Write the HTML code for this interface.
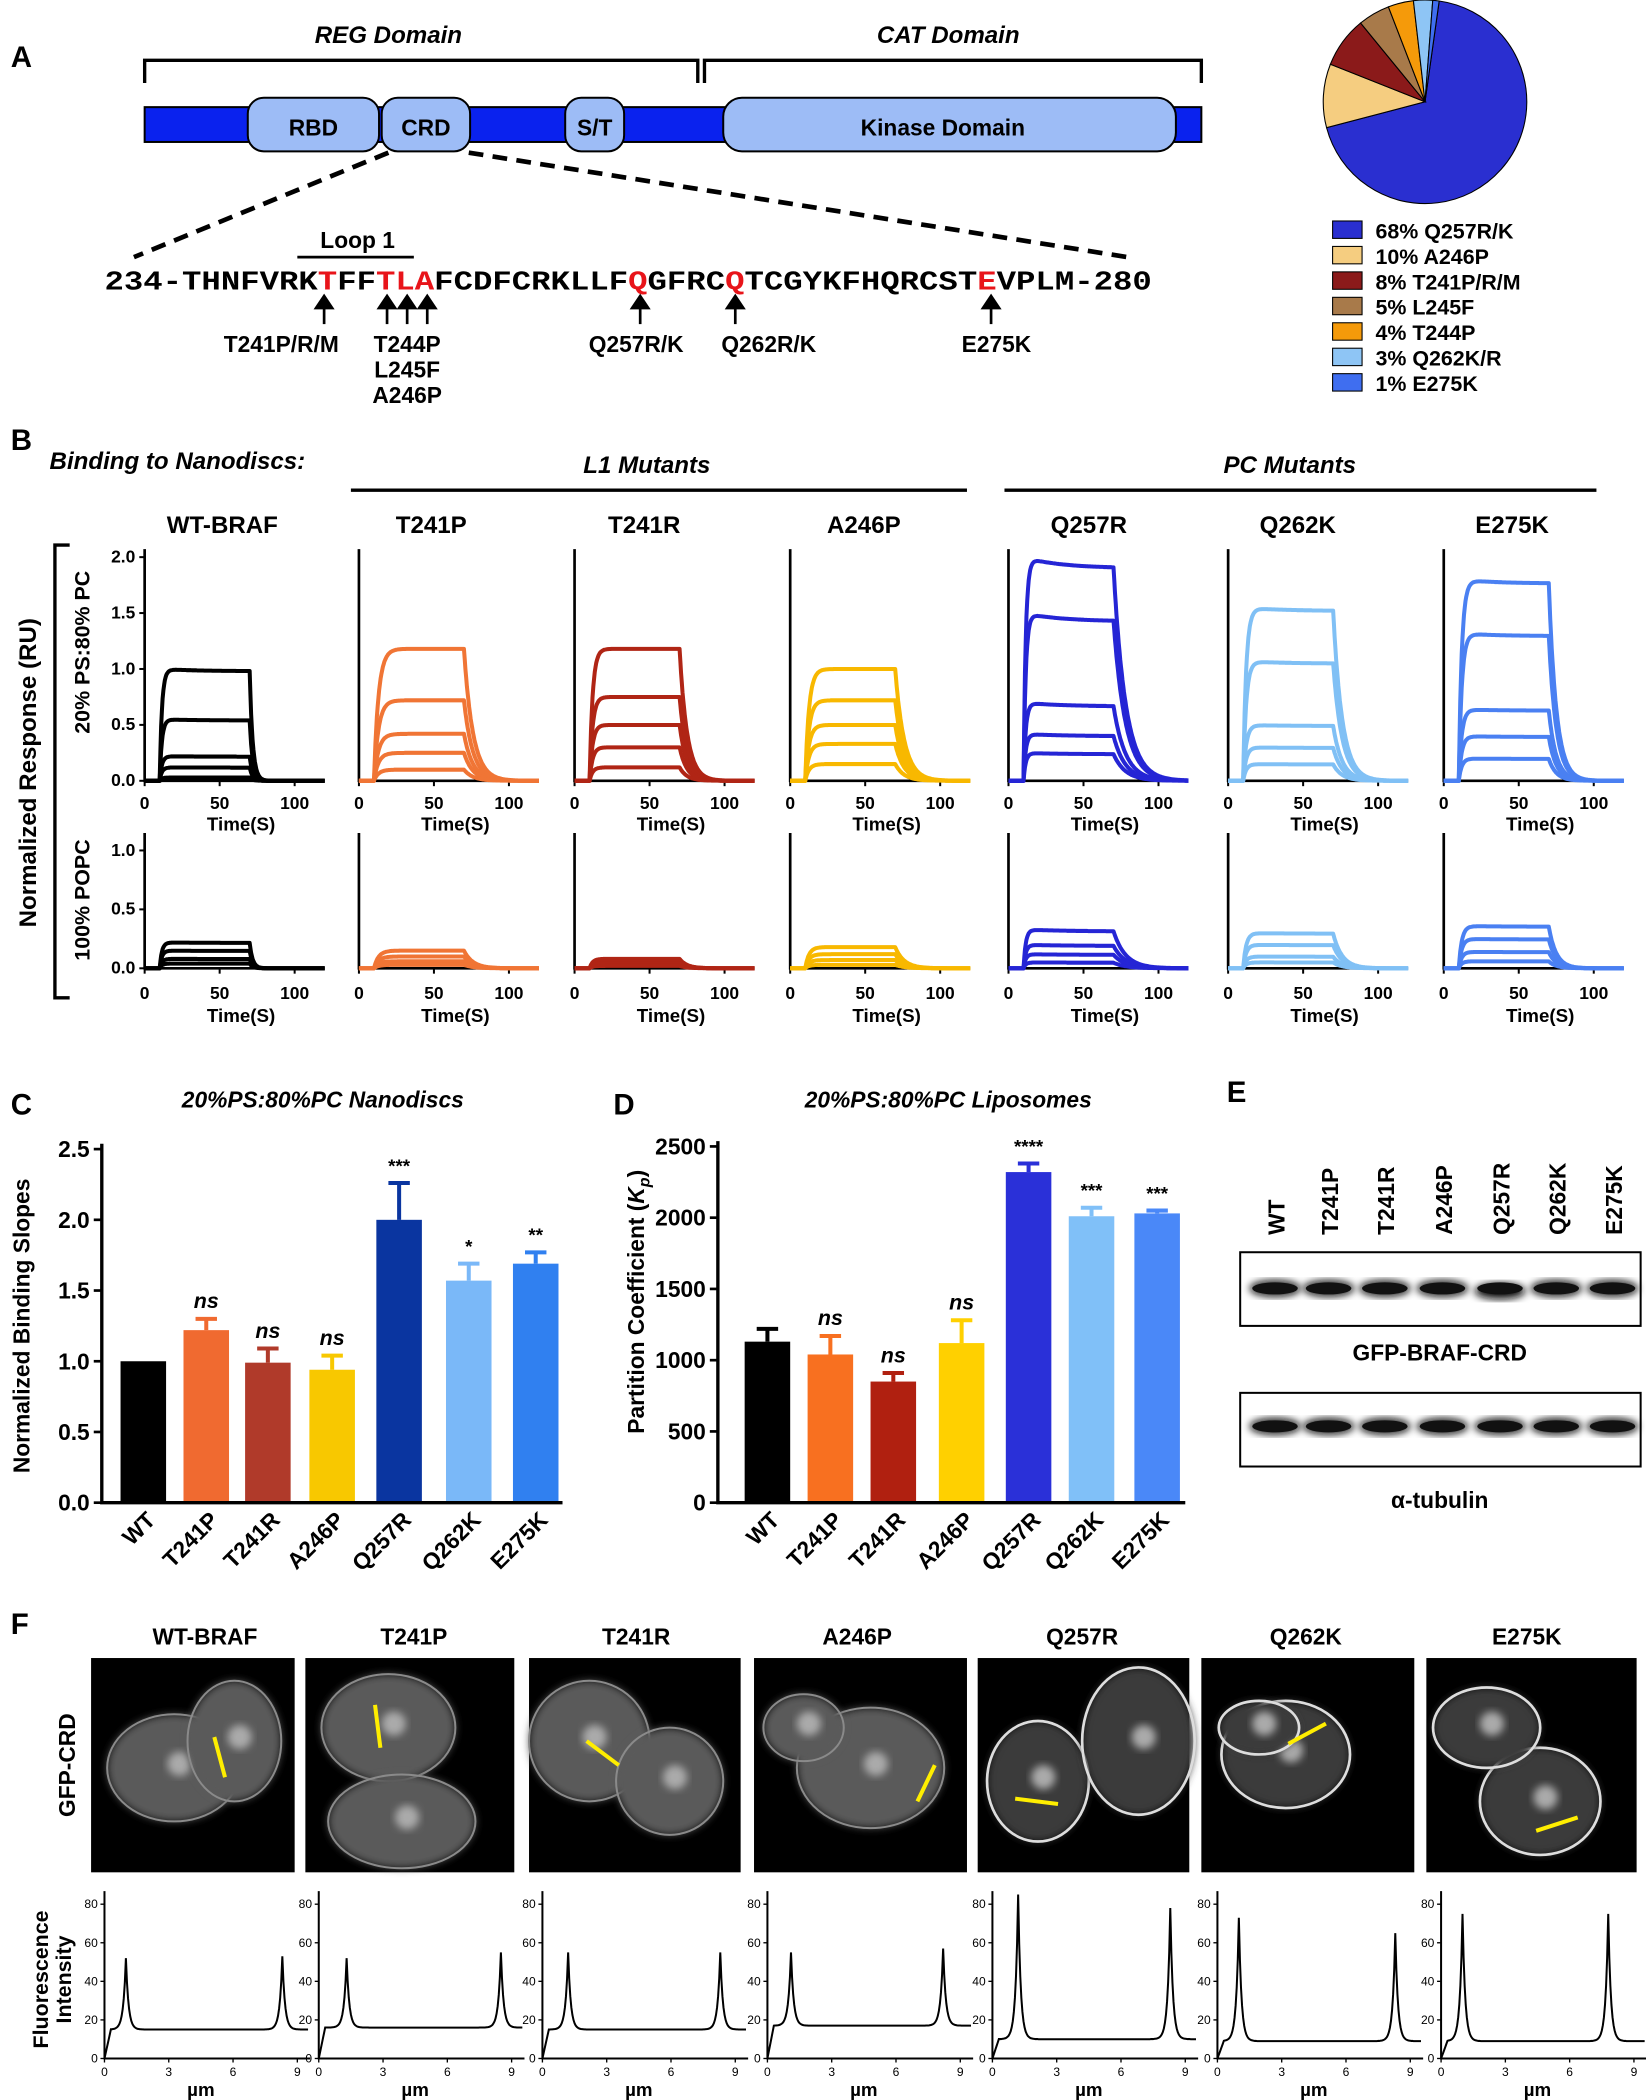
<!DOCTYPE html>
<html><head><meta charset="utf-8">
<style>
html,body{margin:0;padding:0;background:#fff;}
svg{display:block;}
text{font-family:"Liberation Sans",Arial,sans-serif;}
</style></head>
<body>
<svg id="fig" xmlns="http://www.w3.org/2000/svg" width="1646" height="2100" viewBox="0 0 1229 1568">
<defs>
<filter id="blur" x="-20%" y="-20%" width="140%" height="140%"><feGaussianBlur stdDeviation="3"/></filter>
</defs>
<rect width="1229" height="1568" fill="#fff"/>

<!-- Panel A -->
<g>
<text x="8" y="50" font-size="22" font-weight="bold">A</text>
<text x="290" y="32" font-size="18" font-weight="bold" font-style="italic" text-anchor="middle">REG Domain</text>
<text x="708" y="32" font-size="18" font-weight="bold" font-style="italic" text-anchor="middle">CAT Domain</text>
<path d="M108,62 V45 H521 V62" fill="none" stroke="#000" stroke-width="2.5"/>
<path d="M526,62 V45 H897 V62" fill="none" stroke="#000" stroke-width="2.5"/>
<rect x="108" y="80" width="789" height="26" fill="#0a22ee" stroke="#000" stroke-width="1.5"/>
<rect x="185" y="73" width="98" height="40" rx="12" fill="#9dbcf6" stroke="#000" stroke-width="1.5"/>
<text x="234" y="101" font-size="17" font-weight="bold" text-anchor="middle">RBD</text>
<rect x="285" y="73" width="66" height="40" rx="12" fill="#9dbcf6" stroke="#000" stroke-width="1.5"/>
<text x="318" y="101" font-size="17" font-weight="bold" text-anchor="middle">CRD</text>
<rect x="422" y="73" width="44" height="40" rx="12" fill="#9dbcf6" stroke="#000" stroke-width="1.5"/>
<text x="444" y="101" font-size="17" font-weight="bold" text-anchor="middle">S/T</text>
<rect x="540" y="73" width="338" height="40" rx="14" fill="#9dbcf6" stroke="#000" stroke-width="1.5"/>
<text x="704" y="101" font-size="17" font-weight="bold" text-anchor="middle">Kinase Domain</text>
<line x1="290" y1="114" x2="100" y2="192" stroke="#000" stroke-width="3.5" stroke-dasharray="11,7"/>
<line x1="350" y1="114" x2="842" y2="192" stroke="#000" stroke-width="3.5" stroke-dasharray="11,7"/>
<text x="267" y="185" font-size="17" font-weight="bold" text-anchor="middle">Loop 1</text>
<line x1="222" y1="192" x2="309" y2="192" stroke="#000" stroke-width="2"/>
<text x="78" y="216" style="font-family:'Liberation Mono',monospace" font-size="20" font-weight="bold" textLength="782" lengthAdjust="spacingAndGlyphs">234-THNFVRK<tspan fill="#e8141a">T</tspan>FF<tspan fill="#e8141a">TLA</tspan>FCDFCRKLLF<tspan fill="#e8141a">Q</tspan>GFRC<tspan fill="#e8141a">Q</tspan>TCGYKFHQRCST<tspan fill="#e8141a">E</tspan>VPLM-280</text>
<g stroke="#000" stroke-width="2" fill="#000">
<line x1="242" y1="242" x2="242" y2="226"/><path d="M236,230 L242,221 L248,230Z"/>
<line x1="289" y1="242" x2="289" y2="226"/><path d="M283,230 L289,221 L295,230Z"/>
<line x1="304" y1="242" x2="304" y2="226"/><path d="M298,230 L304,221 L310,230Z"/>
<line x1="319" y1="242" x2="319" y2="226"/><path d="M313,230 L319,221 L325,230Z"/>
<line x1="478" y1="242" x2="478" y2="226"/><path d="M472,230 L478,221 L484,230Z"/>
<line x1="549" y1="242" x2="549" y2="226"/><path d="M543,230 L549,221 L555,230Z"/>
<line x1="740" y1="242" x2="740" y2="226"/><path d="M734,230 L740,221 L746,230Z"/>
</g>
<g font-size="17" font-weight="bold" text-anchor="middle">
<text x="210" y="263">T241P/R/M</text>
<text x="304" y="263">T244P</text>
<text x="304" y="282">L245F</text>
<text x="304" y="301">A246P</text>
<text x="475" y="263">Q257R/K</text>
<text x="574" y="263">Q262R/K</text>
<text x="744" y="263">E275K</text>
</g>
<g id="pie"></g>
<g id="pieLegend"></g>
</g>

<!-- Panel B -->
<g>
<text x="8" y="336" font-size="22" font-weight="bold">B</text>
<text x="37" y="350" font-size="18" font-weight="bold" font-style="italic">Binding to Nanodiscs:</text>
<text x="483" y="353" font-size="18" font-weight="bold" font-style="italic" text-anchor="middle">L1 Mutants</text>
<line x1="262" y1="366" x2="722" y2="366" stroke="#000" stroke-width="2.5"/>
<text x="963" y="353" font-size="18" font-weight="bold" font-style="italic" text-anchor="middle">PC Mutants</text>
<line x1="750" y1="366" x2="1192" y2="366" stroke="#000" stroke-width="2.5"/>
<path d="M52,407 H41 V745 H52" fill="none" stroke="#000" stroke-width="2.5"/>
<text transform="translate(27,577) rotate(-90)" font-size="18" font-weight="bold" text-anchor="middle">Normalized Response (RU)</text>
<text transform="translate(67,487) rotate(-90)" font-size="16" font-weight="bold" text-anchor="middle">20% PS:80% PC</text>
<text transform="translate(67,672) rotate(-90)" font-size="16" font-weight="bold" text-anchor="middle">100% POPC</text>
<g id="panelB"></g>
</g>

<!-- Panel C -->
<g>
<text x="8" y="832" font-size="22" font-weight="bold">C</text>
<text x="241" y="827" font-size="17" font-weight="bold" font-style="italic" text-anchor="middle">20%PS:80%PC Nanodiscs</text>
<text transform="translate(22,990) rotate(-90)" font-size="17" font-weight="bold" text-anchor="middle">Normalized Binding Slopes</text>
<g id="chartC"></g>
</g>

<!-- Panel D -->
<g>
<text x="458" y="832" font-size="22" font-weight="bold">D</text>
<text x="708" y="827" font-size="17" font-weight="bold" font-style="italic" text-anchor="middle">20%PS:80%PC Liposomes</text>
<text transform="translate(481,972) rotate(-90)" font-size="17" font-weight="bold" text-anchor="middle">Partition Coefficient (<tspan font-style="italic">K</tspan><tspan font-style="italic" font-size="12" dy="4">p</tspan><tspan dy="-4">)</tspan></text>
<g id="chartD"></g>
</g>

<!-- Panel E -->
<g>
<text x="916" y="823" font-size="22" font-weight="bold">E</text>
<g id="blot"></g>
<text x="1075" y="1016" font-size="17" font-weight="bold" text-anchor="middle">GFP-BRAF-CRD</text>
<text x="1075" y="1126" font-size="17" font-weight="bold" text-anchor="middle">α-tubulin</text>
</g>

<!-- Panel F -->
<g>
<text x="8" y="1220" font-size="22" font-weight="bold">F</text>
<text transform="translate(56,1318) rotate(-90)" font-size="17" font-weight="bold" text-anchor="middle">GFP-CRD</text>
<text transform="translate(36,1478) rotate(-90)" font-size="16" font-weight="bold" text-anchor="middle">Fluorescence</text>
<text transform="translate(53,1478) rotate(-90)" font-size="16" font-weight="bold" text-anchor="middle">Intensity</text>
<g id="panelF"></g>
</g>
</svg>

<script>
// ---------- data ----------
const pieLabels = ["68% Q257R/K","10% A246P","8% T241P/R/M","5% L245F","4% T244P","3% Q262K/R","1% E275K"];
const pieValues = [68,10,8,5,4,3,1];
const pieColors = ["#2a2fd0","#f5cd80","#8b1a1a","#a87a4a","#f59a0a","#8ec5f5","#3f6ef0"];

const bMutants = ["WT-BRAF","T241P","T241R","A246P","Q257R","Q262K","E275K"];
const bColors = ["#000000","#f07535","#b02515","#f8b800","#2525d5","#80c0f5","#4a80f2"];
const bTopPlateaus = [
  [1.0,0.55,0.22,0.12,0.03],
  [1.18,0.72,0.42,0.25,0.1],
  [1.18,0.75,0.5,0.3,0.12],
  [1.0,0.72,0.5,0.33,0.15],
  [2.0,1.5,0.7,0.42,0.25],
  [1.55,1.07,0.5,0.3,0.15],
  [1.8,1.32,0.64,0.4,0.2]];
const bBottomPlateaus = [
  [0.22,0.15,0.08,0.04],
  [0.15,0.1,0.06,0.03],
  [0.08,0.06,0.04,0.02],
  [0.18,0.12,0.07,0.03],
  [0.33,0.2,0.12,0.05],
  [0.3,0.2,0.1,0.05],
  [0.36,0.25,0.14,0.06]];
const bOnTau = [1.5,3,2,2.5,1.5,2,2];
const bOffTau = [2,6,5,6,8,6,5];
const bDecay = [0.02,0,0,0,0.05,0.02,0.02];
const bTopTicks = [0,0.5,1.0,1.5,2.0];
const bBottomTicks = [0,0.5,1.0];
const timeTicks = [0,50,100];

const cCats = ["WT","T241P","T241R","A246P","Q257R","Q262K","E275K"];
const cValues = [1.0,1.22,0.99,0.94,2.0,1.57,1.69];
const cErrors = [0,0.08,0.1,0.1,0.26,0.12,0.08];
const cSig = ["","ns","ns","ns","***","*","**"];
const cColors = ["#000000","#f06a30","#b03a2a","#f8c800","#0a35a0","#7ab8f8","#3080f0"];
const cTicks = [0,0.5,1.0,1.5,2.0,2.5];

const dCats = ["WT","T241P","T241R","A246P","Q257R","Q262K","E275K"];
const dValues = [1130,1040,850,1120,2320,2010,2030];
const dErrors = [90,130,60,160,60,60,20];
const dSig = ["","ns","ns","ns","****","***","***"];
const dColors = ["#000000","#f87020","#b02010","#ffd000","#2a30d8","#80c0f8","#4a88f8"];
const dTicks = [0,500,1000,1500,2000,2500];

const fLabels = ["WT-BRAF","T241P","T241R","A246P","Q257R","Q262K","E275K"];
const fPeakLeft = [52,52,55,55,85,73,75];
const fPeakRight = [53,55,55,57,78,65,75];
const fPeakPosL = [1.0,1.3,1.2,1.1,1.2,1.0,1.0];
const fPeakPosR = [8.3,8.5,8.3,8.2,8.3,8.3,7.8];
const fBaseline = [15,16,15,17,10,9,9];
const fYTicks = [0,20,40,60,80];
const fXTicks = [0,3,6,9];

// ---------- helpers ----------
const NS = "http://www.w3.org/2000/svg";
function mk(tag, attrs, parent){
  const el = document.createElementNS(NS, tag);
  for (const k in attrs) el.setAttribute(k, attrs[k]);
  parent.appendChild(el);
  return el;
}
function txt(parent, x, y, s, size, anchor, weight){
  const t = mk("text", {x:x, y:y, "font-size":size, "text-anchor":anchor||"middle", "font-weight":weight||"bold"}, parent);
  t.textContent = s;
  return t;
}

// ---------- pie ----------
(function(){
  const g = document.getElementById("pie");
  const cx=1064, cy=76, r=76;
  const total = pieValues.reduce((a,b)=>a+b,0);
  let a0 = 8;
  pieValues.forEach((v,i)=>{
    const a1 = a0 + v/total*360;
    const p = (a)=>[cx + r*Math.sin(a*Math.PI/180), cy - r*Math.cos(a*Math.PI/180)];
    const [x0,y0]=p(a0), [x1,y1]=p(a1);
    const large = (a1-a0)>180?1:0;
    const s = mk("path",{d:`M${cx},${cy} L${x0},${y0} A${r},${r} 0 ${large} 1 ${x1},${y1} Z`, fill:pieColors[i], stroke:"#000", "stroke-width":0.8}, g);
    
    
    a0 = a1;
  });
  const lg = document.getElementById("pieLegend");
  pieLabels.forEach((l,i)=>{
    const y = 172 + i*19;
    const sq = mk("rect",{x:995,y:y-7,width:22,height:13,fill:pieColors[i],stroke:"#000","stroke-width":0.8}, lg);
    
    
    const t = txt(lg, 1027, y+6, l, 16, "start");
    
    
  });
})();

// ---------- panel B ----------
(function(){
  const g = document.getElementById("panelB");
  const x0s = [108,268,429,590,753,917,1078];
  const titleX = [166,322,481,645,813,969,1129];
  const pxPerSec = 1.12;
  function resp(P, t, i){
    if (t < 10) return 0;
    const on = bOnTau[i], off = bOffTau[i];
    const assoc = (tt)=>P*(1-Math.exp(-(tt-10)/on))*(1 - bDecay[i]*(1-Math.exp(-(tt-10)/25)));
    if (t <= 70) return assoc(t);
    return assoc(70)*Math.exp(-(t-70)/off);
  }
  bMutants.forEach((m,i)=>{
    const x0 = x0s[i];
    const tt = txt(g, titleX[i], 398, m, 18);
    
    
    const xs = t=>x0 + t*pxPerSec;
    [[bTopPlateaus, 583, 83.5, 410, bTopTicks, 604, 620],[bBottomPlateaus, 723, 88, 622, bBottomTicks, 746, 763]].forEach((row,ri)=>{
      const [plat, y0, ppu, ytop, ticks, xtY, xtitleY] = row;
      const ys = v=>y0 - v*ppu;
      const ax = mk("g",{}, g);
      
      
      mk("line",{x1:x0,y1:ytop,x2:x0,y2:y0+1,stroke:"#000","stroke-width":2}, ax);
      mk("line",{x1:x0,y1:y0,x2:xs(120),y2:y0,stroke:"#000","stroke-width":2}, ax);
      timeTicks.forEach(tv=>{
        mk("line",{x1:xs(tv),y1:y0,x2:xs(tv),y2:y0+4,stroke:"#000","stroke-width":1.5}, ax);
        txt(ax, xs(tv), xtY, String(tv), 13);
      });
      const xt = txt(ax, x0+72, xtitleY, "Time(S)", 14);
      
      
      if (i===0){
        ticks.forEach(v=>{
          mk("line",{x1:x0-4,y1:ys(v),x2:x0,y2:ys(v),stroke:"#000","stroke-width":1.5}, ax);
          txt(ax, x0-7, ys(v)+4, v.toFixed(1), 13, "end");
        });
      }
      plat[i].forEach(P=>{
        let d = "";
        for (let t=0; t<=120; t+=0.5){
          d += (t===0?"M":"L") + xs(t).toFixed(1) + "," + ys(resp(P,t,i)).toFixed(1);
        }
        const c = mk("path",{d:d, fill:"none", stroke:bColors[i], "stroke-width":3, "stroke-linejoin":"round"}, g);
        
        
      });
    });
  });
})();

// ---------- bar charts ----------
function barChart(id, cats, vals, errs, sig, cols, ticks, axX, axRight, y0, ytop, maxV, centers, decimals){
  const g = document.getElementById(id);
  const ys = v=>y0 - v/maxV*(y0-ytop);
  const w = 34;
  cats.forEach((c,i)=>{
    const b = mk("rect",{x:centers[i]-w/2, y:ys(vals[i]), width:w, height:y0-ys(vals[i]), fill:cols[i]}, g);
    
    
    if (errs[i]>0){
      const e = mk("path",{d:`M${centers[i]},${ys(vals[i])} V${ys(vals[i]+errs[i])} M${centers[i]-8},${ys(vals[i]+errs[i])} H${centers[i]+8}`, stroke:cols[i], "stroke-width":3, fill:"none"}, g);
      
      
    }
    if (sig[i]){
      const s = mk("text",{x:centers[i], y:ys(vals[i]+errs[i])-8, "font-size":sig[i]==="ns"?16:14, "font-weight":"bold", "font-style":sig[i]==="ns"?"italic":"normal", "text-anchor":"middle"}, g);
      s.textContent = sig[i];
      
      
    }
    const l = mk("text",{transform:`translate(${centers[i]+10},${y0+14}) rotate(-45)`, "font-size":17, "font-weight":"bold", "text-anchor":"end"}, g);
    l.textContent = c;
    
    
  });
  const ax = mk("path",{d:`M${axX},${ytop-4} V${y0} H${axRight}`, fill:"none", stroke:"#000","stroke-width":2.5}, g);
  
  
  ticks.forEach(v=>{
    mk("line",{x1:axX-6,y1:ys(v),x2:axX,y2:ys(v),stroke:"#000","stroke-width":2}, g);
    const t = txt(g, axX-9, ys(v)+6, decimals?v.toFixed(1):String(v), 17, "end");
    
    
  });
}
barChart("chartC", cCats, cValues, cErrors, cSig, cColors, cTicks, 76, 420, 1122, 858, 2.5, [107,154,200,248,298,350,400], true);
barChart("chartD", dCats, dValues, dErrors, dSig, dColors, dTicks, 536, 885, 1122, 856, 2500, [573,620,667,718,768,815,864], false);

// ---------- blot ----------
(function(){
  const g = document.getElementById("blot");
  const lanes = ["WT","T241P","T241R","A246P","Q257R","Q262K","E275K"];
  const lx = [952,992,1034,1077,1120,1162,1204];
  lanes.forEach((l,i)=>{
    const t = mk("text",{transform:`translate(${lx[i]+7},${922}) rotate(-90)`, "font-size":17, "font-weight":"bold"}, g);
    t.textContent = l;
    
    
  });
  [[935,990,962],[1040,1095,1065]].forEach((b,bi)=>{
    const r = mk("rect",{x:926,y:b[0],width:299,height:b[1]-b[0],fill:"#fff",stroke:"#000","stroke-width":1.5}, g);
    
    
    lx.forEach((x,i)=>{
      const e = mk("ellipse",{cx:x, cy:b[2]+(i===4&&bi===0?2:0), rx:19, ry:6, fill:"#111", filter:"url(#blur)"}, g);
      
      
      mk("ellipse",{cx:x, cy:b[2], rx:17, ry:4.5, fill:"#111"}, g);
    });
  });
})();

// ---------- panel F ----------
(function(){
  const g = document.getElementById("panelF");
  const imgX = [68,228,395,563,730,897,1065];
  const imgW = [152,156,158,159,158,159,157];
  const titleX = [153,309,475,640,808,975,1140];
  const cells = [
    [[130,1320,50,40],[175,1300,35,45]],
    [[290,1290,50,40],[300,1360,55,35]],
    [[440,1300,45,45],[500,1330,40,40]],
    [[650,1320,55,45],[600,1290,30,25]],
    [[775,1330,38,45],[850,1300,42,55]],
    [[960,1310,48,40],[940,1290,30,20]],
    [[1150,1345,45,40],[1110,1290,40,30]]];
  const yellow = [[160,1297,168,1327],[280,1273,284,1305],[438,1300,462,1318],[685,1345,698,1318],[758,1343,790,1347],[962,1302,990,1287],[1147,1367,1178,1357]];
  const axX0 = [78,238,405,573,741,909,1076];
  fLabels.forEach((l,i)=>{
    const t = txt(g, titleX[i], 1228, l, 17);
    
    
    const im = mk("rect",{x:imgX[i],y:1238,width:imgW[i],height:160,fill:"#000"}, g);
    
    
    cells[i].forEach(c=>{
      mk("ellipse",{cx:c[0],cy:c[1],rx:c[2],ry:c[3],fill:i>=4?"#3a3a3a":"#5a5a5a",filter:"url(#blur)"}, g);
      mk("ellipse",{cx:c[0],cy:c[1],rx:c[2],ry:c[3],fill:"none",stroke:i>=4?"#ddd":"#8a8a8a","stroke-width":i>=4?2:1.5}, g);
      mk("circle",{cx:c[0]+4,cy:c[1]-3,r:9,fill:"#aaa",filter:"url(#blur)"}, g);
    });
    const y = yellow[i];
    const yl = mk("line",{x1:y[0],y1:y[1],x2:y[2],y2:y[3],stroke:"#ffee00","stroke-width":3}, g);
    
    

    // profile
    const x0 = axX0[i], y0 = 1537;
    const xs = v=>x0 + v*16;
    const ys = v=>y0 - v*1.44;
    const ax = mk("path",{d:`M${x0},1412 V${y0} H${xs(9.6)}`, fill:"none", stroke:"#000","stroke-width":1.5}, g);
    
    
    fYTicks.forEach(v=>{
      mk("line",{x1:x0-3,y1:ys(v),x2:x0,y2:ys(v),stroke:"#000","stroke-width":1}, g);
      txt(g, x0-5, ys(v)+3, String(v), 9, "end", "normal");
    });
    fXTicks.forEach(v=>{
      mk("line",{x1:xs(v),y1:y0,x2:xs(v),y2:y0+3,stroke:"#000","stroke-width":1}, g);
      txt(g, xs(v), y0+13, String(v), 9, "middle", "normal");
    });
    const ut = txt(g, xs(4.5), 1565, "µm", 14);
    
    
    let d = "";
    for (let p=0; p<=9.5; p+=0.05){
      const b = fBaseline[i];
      const v = b + (fPeakLeft[i]-b)*Math.exp(-Math.abs(p-fPeakPosL[i])/0.12) + (fPeakRight[i]-b)*Math.exp(-Math.abs(p-fPeakPosR[i])/0.12);
      const vv = p < 0.3 ? v*(p/0.3) : v;
      d += (p===0?"M":"L") + xs(p).toFixed(1) + "," + ys(vv).toFixed(1);
    }
    const pr = mk("path",{d:d,fill:"none",stroke:"#000","stroke-width":1.5}, g);
    
    
  });
})();
</script>
</body></html>
